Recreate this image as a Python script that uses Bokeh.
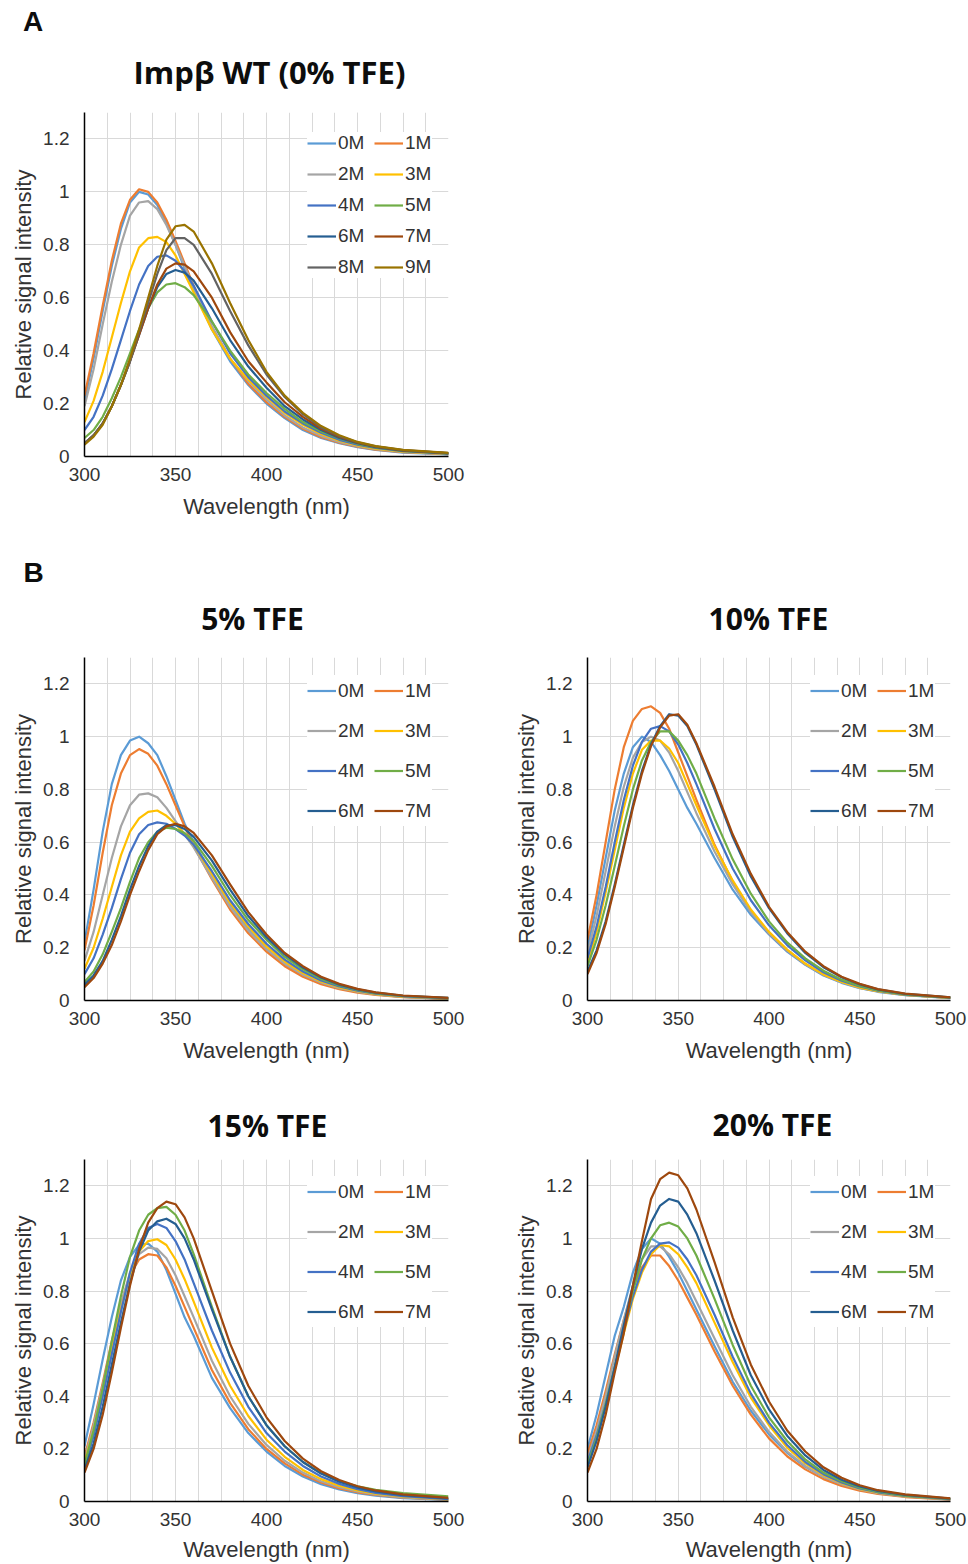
from bokeh.plotting import figure
from bokeh.models import Range1d, FixedTicker, NumeralTickFormatter, Legend, LegendItem, Label, Div
from bokeh.layouts import column, row
from bokeh.embed import file_html
from bokeh.resources import INLINE

# ---------------- data ----------------
WL = [300, 305, 310, 315, 320, 325, 330, 335, 340, 345, 350, 355, 360,
      370, 380, 390, 400, 410, 420, 430, 440, 450, 460, 475, 500]
CONC_A = ["0M", "1M", "2M", "3M", "4M", "5M", "6M", "7M", "8M", "9M"]
CONC_B = ["0M", "1M", "2M", "3M", "4M", "5M", "6M", "7M"]
X_TICKS = [300, 350, 400, 450, 500]
X_GRID = [300, 312.5, 325, 337.5, 350, 362.5, 375, 387.5, 400, 412.5, 425,
          437.5, 450, 462.5, 475, 487.5, 500]
Y_TICKS = [0, 0.2, 0.4, 0.6, 0.8, 1.0, 1.2]

# Panel A: Imp-beta WT (0% TFE)
A_0M = [.21, .37, .55, .72, .86, .96, 1.0, .99, .95, .88, .80, .71, .63, .48, .36, .27, .20, .145, .10, .07, .05, .035, .025, .015, .008]
A_1M = [.23, .39, .57, .74, .88, .97, 1.01, 1.0, .96, .895, .815, .73, .645, .49, .37, .275, .205, .15, .105, .073, .052, .037, .026, .016, .009]
A_2M = [.19, .33, .50, .66, .80, .91, .96, .965, .935, .875, .80, .72, .64, .49, .37, .285, .215, .155, .11, .078, .055, .039, .028, .017, .009]
A_3M = [.13, .21, .32, .45, .58, .70, .79, .825, .83, .81, .76, .69, .62, .48, .37, .29, .225, .165, .12, .085, .06, .042, .03, .018, .01]
A_4M = [.10, .15, .23, .33, .44, .55, .65, .72, .755, .76, .74, .70, .645, .51, .39, .30, .23, .17, .125, .09, .063, .045, .032, .02, .011]
A_5M = [.07, .10, .15, .22, .30, .39, .48, .56, .62, .65, .655, .64, .61, .51, .40, .31, .24, .18, .13, .095, .068, .048, .034, .021, .012]
A_6M = [.05, .08, .125, .19, .27, .36, .46, .56, .64, .69, .705, .695, .665, .56, .44, .34, .26, .19, .14, .10, .07, .05, .035, .022, .012]
A_7M = [.05, .08, .125, .19, .27, .36, .46, .56, .65, .71, .73, .725, .70, .60, .47, .36, .28, .205, .15, .105, .074, .052, .037, .023, .013]
A_8M = [.05, .08, .125, .19, .27, .36, .47, .58, .69, .78, .825, .825, .80, .69, .55, .42, .31, .225, .16, .11, .077, .054, .038, .024, .013]
A_9M = [.045, .075, .12, .19, .27, .37, .48, .60, .72, .82, .87, .875, .85, .73, .58, .44, .32, .23, .165, .115, .08, .055, .039, .025, .014]

# Panel B: 5% TFE
B5_0M = [.22, .42, .64, .82, .93, .985, 1.0, .975, .93, .85, .76, .67, .60, .48, .365, .27, .195, .138, .097, .067, .047, .033, .023, .014, .006]
B5_1M = [.19, .36, .56, .74, .86, .93, .953, .935, .89, .82, .74, .66, .585, .46, .345, .255, .185, .13, .09, .062, .043, .03, .021, .013, .006]
B5_2M = [.15, .26, .40, .54, .66, .74, .78, .785, .77, .73, .68, .63, .58, .465, .355, .265, .195, .14, .098, .068, .047, .033, .023, .014, .007]
B5_3M = [.12, .20, .31, .43, .55, .64, .69, .715, .72, .70, .67, .63, .59, .48, .37, .28, .205, .148, .104, .072, .05, .035, .024, .015, .007]
B5_4M = [.10, .16, .25, .35, .46, .56, .63, .665, .675, .67, .65, .625, .59, .49, .38, .29, .215, .155, .11, .076, .053, .037, .026, .016, .008]
B5_5M = [.07, .11, .175, .26, .35, .45, .54, .60, .64, .655, .65, .635, .605, .51, .40, .305, .23, .165, .118, .082, .057, .04, .028, .017, .009]
B5_6M = [.06, .095, .15, .23, .32, .42, .51, .585, .64, .665, .665, .65, .62, .53, .42, .32, .24, .175, .125, .087, .06, .042, .03, .018, .01]
B5_7M = [.05, .085, .14, .21, .30, .40, .49, .57, .63, .66, .67, .66, .635, .55, .44, .335, .25, .18, .13, .09, .063, .044, .031, .019, .01]

# Panel B: 10% TFE
B10_0M = [.20, .36, .54, .72, .86, .96, 1.0, .98, .93, .87, .80, .73, .67, .54, .42, .325, .25, .185, .135, .095, .067, .047, .033, .02, .009]
B10_1M = [.23, .40, .60, .80, .96, 1.06, 1.105, 1.115, 1.09, 1.03, .94, .85, .76, .59, .45, .34, .255, .19, .138, .098, .07, .049, .035, .021, .01]
B10_2M = [.18, .32, .49, .66, .81, .92, .98, 1.0, .985, .94, .87, .79, .71, .565, .44, .335, .255, .19, .137, .097, .069, .048, .034, .021, .01]
B10_3M = [.14, .26, .41, .57, .73, .86, .95, .985, .985, .955, .90, .82, .74, .585, .455, .345, .26, .193, .14, .099, .07, .049, .035, .021, .01]
B10_4M = [.16, .28, .43, .60, .76, .89, .98, 1.03, 1.04, 1.02, .97, .90, .82, .65, .50, .38, .285, .21, .152, .107, .075, .053, .037, .022, .011]
B10_5M = [.13, .23, .36, .51, .66, .80, .91, .98, 1.02, 1.02, .985, .93, .86, .69, .535, .405, .30, .22, .16, .113, .079, .055, .038, .023, .011]
B10_6M = [.11, .19, .30, .44, .59, .74, .87, .97, 1.04, 1.085, 1.08, 1.04, .97, .80, .62, .47, .35, .255, .18, .126, .088, .061, .042, .025, .012]
B10_7M = [.10, .18, .29, .43, .58, .73, .86, .965, 1.035, 1.08, 1.085, 1.045, .975, .81, .63, .48, .355, .26, .185, .13, .09, .063, .043, .026, .012]

# Panel B: 15% TFE
B15_0M = [.21, .37, .54, .70, .84, .93, .975, .98, .95, .88, .79, .70, .63, .47, .355, .26, .19, .135, .095, .066, .046, .032, .022, .013, .006]
B15_1M = [.17, .30, .45, .61, .75, .86, .92, .94, .935, .89, .82, .74, .66, .50, .375, .275, .20, .145, .102, .072, .05, .035, .025, .015, .007]
B15_2M = [.16, .29, .44, .60, .75, .87, .94, .965, .96, .925, .86, .78, .70, .535, .40, .295, .215, .155, .11, .077, .054, .038, .027, .016, .007]
B15_3M = [.15, .27, .42, .58, .73, .86, .95, .99, .997, .975, .92, .845, .76, .585, .44, .325, .235, .17, .12, .085, .06, .042, .03, .018, .008]
B15_4M = [.13, .25, .40, .56, .72, .87, .98, 1.04, 1.055, 1.04, .99, .92, .83, .65, .49, .36, .26, .19, .135, .095, .067, .047, .033, .02, .009]
B15_5M = [.14, .27, .43, .61, .78, .93, 1.03, 1.09, 1.115, 1.12, 1.09, 1.03, .94, .74, .55, .40, .29, .21, .15, .107, .078, .058, .044, .032, .02]
B15_6M = [.12, .22, .36, .52, .68, .83, .95, 1.03, 1.065, 1.075, 1.055, 1.0, .92, .73, .55, .40, .29, .21, .15, .106, .075, .053, .038, .024, .012]
B15_7M = [.11, .20, .33, .49, .66, .82, .96, 1.06, 1.115, 1.14, 1.13, 1.08, 1.0, .80, .60, .44, .32, .23, .163, .115, .082, .058, .042, .027, .014]

# Panel B: 20% TFE
B20_0M = [.20, .33, .48, .63, .74, .87, .96, 1.0, .98, .93, .87, .80, .73, .59, .455, .345, .255, .185, .132, .093, .065, .045, .031, .019, .008]
B20_1M = [.18, .29, .42, .56, .69, .81, .89, .935, .935, .895, .84, .775, .71, .57, .44, .33, .24, .172, .122, .085, .059, .041, .029, .017, .007]
B20_2M = [.16, .27, .40, .55, .69, .82, .92, .97, .97, .94, .89, .83, .76, .62, .48, .36, .265, .19, .135, .094, .066, .046, .032, .019, .008]
B20_3M = [.14, .24, .36, .50, .64, .77, .87, .94, .975, .97, .94, .89, .83, .68, .53, .395, .29, .205, .145, .10, .07, .048, .034, .02, .009]
B20_4M = [.15, .25, .37, .51, .65, .78, .88, .95, .98, .985, .965, .92, .86, .71, .55, .41, .30, .215, .15, .104, .072, .05, .035, .021, .009]
B20_5M = [.14, .24, .37, .51, .66, .80, .92, 1.0, 1.05, 1.06, 1.045, 1.0, .935, .77, .595, .44, .32, .23, .16, .11, .077, .053, .037, .022, .01]
B20_6M = [.13, .23, .36, .51, .67, .82, .96, 1.06, 1.125, 1.15, 1.14, 1.09, 1.02, .84, .65, .48, .35, .25, .175, .12, .083, .057, .04, .025, .011]
B20_7M = [.11, .20, .33, .49, .64, .82, .99, 1.15, 1.225, 1.25, 1.24, 1.19, 1.11, .91, .70, .52, .38, .27, .19, .13, .09, .062, .043, .027, .012]

PANEL_A = [A_0M, A_1M, A_2M, A_3M, A_4M, A_5M, A_6M, A_7M, A_8M, A_9M]
PANEL_5 = [B5_0M, B5_1M, B5_2M, B5_3M, B5_4M, B5_5M, B5_6M, B5_7M]
PANEL_10 = [B10_0M, B10_1M, B10_2M, B10_3M, B10_4M, B10_5M, B10_6M, B10_7M]
PANEL_15 = [B15_0M, B15_1M, B15_2M, B15_3M, B15_4M, B15_5M, B15_6M, B15_7M]
PANEL_20 = [B20_0M, B20_1M, B20_2M, B20_3M, B20_4M, B20_5M, B20_6M, B20_7M]

# ---------------- style ----------------
COLORS = ["#5B9BD5", "#ED7D31", "#A5A5A5", "#FFC000", "#4472C4",
          "#70AD47", "#255E91", "#9E480E", "#636363", "#997300"]
TEXT = "#333333"
GRID = "#d9d9d9"
AX_FONT = "Liberation Sans"
TITLE_FONT = "Open Sans"


def make_header(width, height, texts):
    """A plain strip (no axes, no title) that carries panel letters and titles."""
    h = figure(width=width, height=height, x_range=Range1d(0, 1),
               y_range=Range1d(0, 1), output_backend="svg", title=None,
               toolbar_location=None, x_axis_location=None,
               y_axis_location=None, min_border=0, min_border_top=0,
               min_border_left=0, min_border_right=0, min_border_bottom=0)
    h.outline_line_color = None
    h.xgrid.visible = False
    h.ygrid.visible = False
    for txt, x, y, kind, size in texts:
        if kind == "letter":
            h.add_layout(Label(x=x, y=y, x_units="canvas", y_units="canvas",
                               text=txt, text_align="left",
                               text_baseline="middle", text_font=AX_FONT,
                               text_font_style="bold", text_font_size=size,
                               text_color="#0d0d0d"))
        else:
            h.add_layout(Label(x=x, y=y, x_units="canvas", y_units="canvas",
                               text=txt, text_align="center",
                               text_baseline="middle", text_font=TITLE_FONT,
                               text_font_style="bold", text_font_size=size,
                               text_color="#0d0d0d"))
    return h


def make_panel(series, names, width, height, bl, br, bt, bb,
               glyph_h, legend_loc, xl_standoff=10):
    p = figure(width=width, height=height, x_range=Range1d(300, 500),
               y_range=Range1d(0, 1.3), output_backend="svg",
               toolbar_location=None, min_border_left=bl, min_border_right=br,
               min_border_top=bt, min_border_bottom=bb)
    p.outline_line_color = None
    p.xaxis.ticker = FixedTicker(ticks=X_TICKS, minor_ticks=X_GRID)
    p.yaxis.ticker = FixedTicker(ticks=Y_TICKS)
    p.yaxis.formatter = NumeralTickFormatter(format="0.[0]")
    for ax in (p.xaxis[0], p.yaxis[0]):
        ax.axis_line_color = "#000000"
        ax.axis_line_width = 1.5
        ax.major_tick_line_color = None
        ax.minor_tick_line_color = None
        ax.major_tick_out = 0
        ax.major_tick_in = 0
        ax.minor_tick_out = 0
        ax.minor_tick_in = 0
        ax.major_label_text_font = AX_FONT
        ax.major_label_text_font_size = "19px"
        ax.major_label_text_color = TEXT
        ax.axis_label_text_font = AX_FONT
        ax.axis_label_text_font_size = "22px"
        ax.axis_label_text_font_style = "normal"
        ax.axis_label_text_color = TEXT
    p.yaxis.axis_label = "Relative signal intensity"
    p.yaxis.major_label_standoff = 15
    p.yaxis.axis_label_standoff = 4
    p.xaxis.axis_label = "Wavelength (nm)"
    p.xaxis.major_label_standoff = 11
    p.xaxis.axis_label_standoff = xl_standoff

    p.xgrid.grid_line_color = GRID
    p.xgrid.minor_grid_line_color = GRID
    p.ygrid.grid_line_color = GRID

    items = []
    for vals, name, color in zip(series, names, COLORS):
        r = p.line(WL, vals, line_color=color, line_width=2.2, line_join="round")
        items.append(LegendItem(label=name, renderers=[r]))
    leg = Legend(items=items, location=legend_loc, orientation="horizontal",
                 ncols=2)
    leg.label_text_font = AX_FONT
    leg.label_text_font_size = "19px"
    leg.label_text_color = TEXT
    leg.glyph_width = 29
    leg.glyph_height = glyph_h
    leg.label_standoff = 2
    leg.label_width = 27
    leg.spacing = 9
    leg.padding = 6
    leg.margin = 0
    leg.background_fill_color = "white"
    leg.background_fill_alpha = 1.0
    leg.border_line_color = None
    p.add_layout(leg)
    return p


# panel letter "A" as an HTML block at the very top-left of the page
letterA = Div(text=('<div style="padding:8px 0 0 23px;font-family:\'Liberation Sans\','
                    'Arial,sans-serif;font-size:28px;font-weight:bold;'
                    'line-height:28px;color:#0d0d0d">A</div>'),
              width=84, height=100, margin=(0, 0, 0, 0))
headA = make_header(408, 100, [("Impβ WT (0% TFE)", 185, 71, "title", "31px")])
figA = make_panel(PANEL_A, CONC_A, 492, 430, 84, 44, 12, 74, 22, (223, 178))

head5 = make_header(492, 115, [("B", 23, 42, "letter", "28px"),
                               ("5% TFE", 252, 88, "title", "30px")])
head10 = make_header(476, 115, [("10% TFE", 276, 88, "title", "30px")])
fig5 = make_panel(PANEL_5, CONC_B, 492, 420, 84, 44, 12, 64, 31, (223, 174))
fig10 = make_panel(PANEL_10, CONC_B, 476, 420, 95, 18, 12, 64, 31, (223, 174))

head15 = make_header(492, 82, [("15% TFE", 267, 60, "title", "30px")])
head20 = make_header(476, 82, [("20% TFE", 280, 59, "title", "30px")])
fig15 = make_panel(PANEL_15, CONC_B, 492, 417, 84, 44, 12, 61, 31, (223, 174),
                   xl_standoff=8)
fig20 = make_panel(PANEL_20, CONC_B, 476, 417, 95, 18, 12, 61, 31, (223, 174),
                   xl_standoff=8)

layout = column(row(letterA, headA), figA, row(head5, head10), row(fig5, fig10),
                row(head15, head20), row(fig15, fig20))

open("out.html", "w").write(file_html(layout, INLINE))
